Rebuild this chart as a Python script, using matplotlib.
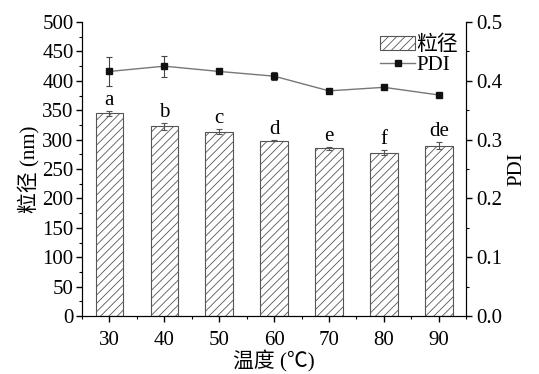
import matplotlib
matplotlib.use("Agg")
import matplotlib.pyplot as plt
from matplotlib.ticker import MultipleLocator, FormatStrFormatter

plt.rcParams['font.family'] = ['Liberation Serif', 'Noto Sans CJK SC']
plt.rcParams['hatch.color'] = '#555555'
plt.rcParams['hatch.linewidth'] = 0.6

temps = [30, 40, 50, 60, 70, 80, 90]
size = [344.5, 322.5, 313.5, 298.0, 285.0, 278.0, 290.0]
size_err = [4, 6, 4, 1, 3, 4, 6]
letters = ['a', 'b', 'c', 'd', 'e', 'f', 'de']
pdi = [0.416, 0.425, 0.416, 0.408, 0.383, 0.389, 0.376]
pdi_err = [0.024, 0.018, 0.005, 0.007, 0.002, 0.002, 0.002]

FS = 15

fig = plt.figure(figsize=(5.39, 3.74), dpi=100)
ax = fig.add_axes([0.152, 0.155, 0.713, 0.786])

bars = ax.bar(temps, size, width=5, color='white', edgecolor='#555555',
              linewidth=0.8, hatch='////', label='粒径', zorder=2)
ax.errorbar(temps, size, yerr=size_err, fmt='none', ecolor='#555555',
            elinewidth=0.8, capsize=2.5, capthick=0.8, zorder=3)
for t, s, e, lab in zip(temps, size, size_err, letters):
    ax.text(t, s + e + 2, lab, ha='center', va='bottom', fontsize=FS)

ax.set_xlim(25, 95)
ax.set_ylim(0, 500)
ax.set_xticks(temps)
ax.xaxis.set_minor_locator(MultipleLocator(5))
ax.yaxis.set_major_locator(MultipleLocator(50))
ax.yaxis.set_minor_locator(MultipleLocator(25))
ax.set_xlabel('温度 (℃)', fontsize=FS, labelpad=0)
ax.set_ylabel('粒径 (nm)', fontsize=FS, labelpad=2)
ax.spines['top'].set_visible(False)
ax.tick_params(axis='both', which='major', direction='out', length=4, width=1,
               labelsize=FS, pad=2)
ax.tick_params(axis='x', which='major', pad=7)
ax.tick_params(axis='both', which='minor', direction='out', length=2.5, width=0.8)

ax2 = ax.twinx()
pdi_cont = ax2.errorbar(temps, pdi, yerr=pdi_err, color='#777777', lw=1.0,
                        marker='s', markersize=5, mfc='#111111', mec='#111111',
                        ecolor='#444444', elinewidth=0.8, capsize=2.5,
                        capthick=0.8, label='PDI')
ax2.set_ylim(0, 0.5)
ax2.yaxis.set_major_locator(MultipleLocator(0.1))
ax2.yaxis.set_minor_locator(MultipleLocator(0.05))
ax2.set_ylabel('PDI', fontsize=FS, labelpad=4)
ax2.spines['top'].set_visible(False)
ax2.tick_params(axis='y', which='major', direction='out', length=4, width=1,
                labelsize=FS, pad=3)
ax2.tick_params(axis='y', which='minor', direction='out', length=2.5, width=0.8)
ax2.yaxis.set_major_formatter(FormatStrFormatter('%.1f'))

ax2.legend([bars, pdi_cont[0]], ['粒径', 'PDI'], loc='upper right',
           bbox_to_anchor=(0.995, 0.975), frameon=False, fontsize=FS,
           handlelength=1.7, handletextpad=0.05, labelspacing=0.0,
           borderaxespad=0.1, borderpad=0.2)

fig.savefig('out.png', dpi=100)
